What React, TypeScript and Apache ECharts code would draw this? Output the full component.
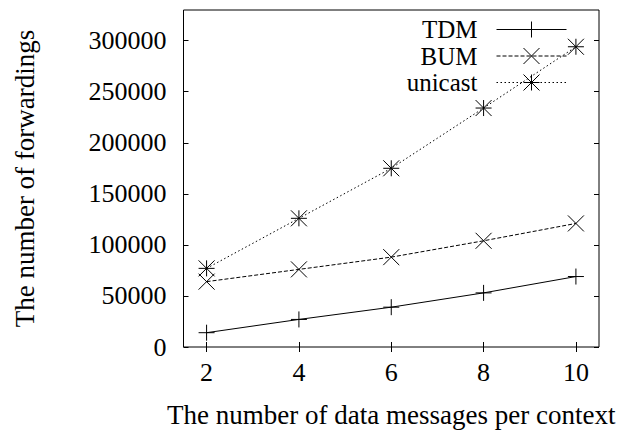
import React, { useEffect, useRef } from "react";
import * as echarts from "echarts";

const xValues = [2, 4, 6, 8, 10];
const tdmValues = [14000, 27000, 39000, 53000, 69000];
const bumValues = [64000, 76000, 88000, 104000, 121000];
const unicastValues = [77000, 126000, 175000, 234000, 294000];
const xTicks = [2, 4, 6, 8, 10];
const yTicks = [0, 50000, 100000, 150000, 200000, 250000, 300000];

const FONT = "Liberation Serif";
const PLUS = "path://M0,5L10,5M5,0L5,10";
const CROSS = "path://M0,0L10,10M10,0L0,10";
const STAR = "path://M0,5L10,5M5,0L5,10M0,0L10,10M10,0L0,10";

const pts = (ys: number[]) => xValues.map((x, i) => [x, ys[i]]);

export default function App() {
  const ref = useRef<HTMLDivElement>(null);
  useEffect(() => {
    if (!ref.current) return;
    const chart = echarts.init(ref.current, null, { renderer: "svg" });
    const symStyle = { color: "rgba(0,0,0,0)", borderColor: "#000", borderWidth: 1 };
    const mkLegend = (name: string, top: number, type: any) => ({
      data: [name],
      right: 59,
      top,
      orient: "vertical",
      align: "right",
      padding: 0,
      itemWidth: 70,
      itemHeight: 20,
      selectedMode: false,
      itemStyle: symStyle,
      lineStyle: { color: "#000", width: 1, type },
      textStyle: { fontFamily: FONT, fontSize: 25, color: "#000", padding: [0, 14, 0, 0] },
    });
    const xAx = (pos: string, showLabel: boolean) => ({
      type: "value",
      position: pos,
      min: 1.5,
      max: 10.5,
      axisLine: { show: false },
      splitLine: { show: false },
      axisTick: { show: true, inside: true, length: 5, customValues: xTicks, lineStyle: { color: "#000" } },
      axisLabel: {
        show: showLabel,
        customValues: xTicks,
        formatter: (v: number) => String(v),
        fontFamily: FONT,
        fontSize: 26,
        color: "#000",
        margin: 12,
      },
    });
    const yAx = (pos: string, showLabel: boolean) => ({
      type: "value",
      position: pos,
      min: 0,
      max: 330000,
      axisLine: { show: false },
      splitLine: { show: false },
      axisTick: { show: true, inside: true, length: 5, customValues: yTicks, lineStyle: { color: "#000" } },
      axisLabel: {
        show: showLabel,
        customValues: yTicks,
        formatter: (v: number) => String(v),
        fontFamily: FONT,
        fontSize: 26,
        color: "#000",
        margin: 17,
      },
    });
    const series = (name: string, ys: number[], symbol: string, type: any) => ({
      name,
      type: "line",
      data: pts(ys),
      xAxisIndex: 0,
      yAxisIndex: 0,
      symbol,
      symbolSize: 16,
      showSymbol: true,
      color: "#000",
      itemStyle: symStyle,
      lineStyle: { color: "#000", width: 1, type },
    });
    chart.setOption({
      animation: false,
      backgroundColor: "#fff",
      grid: {
        left: 183.5,
        right: 27,
        top: 10,
        bottom: 83,
        show: true,
        borderColor: "#000",
        borderWidth: 1,
        backgroundColor: "transparent",
      },
      legend: [
        mkLegend("TDM", 17, "solid"),
        mkLegend("BUM", 43.5, [4, 2]),
        mkLegend("unicast", 70, [1.5, 2.5]),
      ],
      xAxis: [
        {
          ...xAx("bottom", true),
          name: "The number of data messages per context",
          nameLocation: "middle",
          nameGap: 54,
          nameTextStyle: { fontFamily: FONT, fontSize: 27, color: "#000" },
        },
        xAx("top", false),
      ],
      yAxis: [
        {
          ...yAx("left", true),
          name: "The number of forwardings",
          nameLocation: "middle",
          nameGap: 145,
          nameTextStyle: { fontFamily: FONT, fontSize: 27, color: "#000" },
        },
        yAx("right", false),
      ],
      series: [
        series("TDM", tdmValues, PLUS, "solid"),
        series("BUM", bumValues, CROSS, [4, 2]),
        series("unicast", unicastValues, STAR, [1.5, 2.5]),
      ],
    });
    return () => chart.dispose();
  }, []);
  return (
    <div
      ref={ref}
      style={{ position: "fixed", left: 0, top: 0, width: 626, height: 433, background: "#fff" }}
    />
  );
}
